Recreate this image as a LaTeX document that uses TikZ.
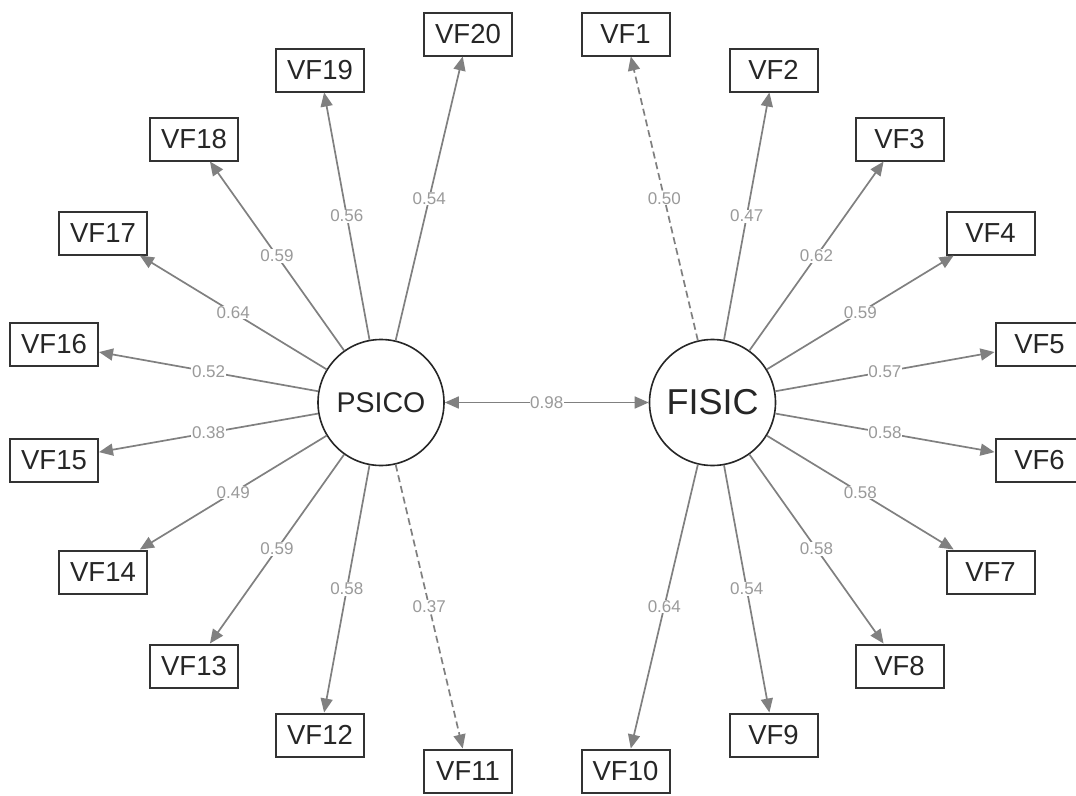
\documentclass[tikz,border=0pt]{standalone}
\usepackage{fontspec}
\setmainfont{Liberation Sans}
\usetikzlibrary{arrows.meta}
\definecolor{edgegray}{HTML}{808080}
\definecolor{lblgray}{HTML}{9A9A9A}
\definecolor{boxline}{HTML}{333333}
\begin{document}
\begin{tikzpicture}[x=1pt,y=-1pt,
  manifest/.style={draw=boxline,line width=2pt,minimum width=88pt,minimum height=43pt,inner sep=0pt,
    font=\fontsize{27.5}{30}\selectfont,text=black!85},
  latent/.style={draw=black!85,line width=1.6pt,circle,minimum size=126pt,inner sep=0pt,text=black!85},
  edge/.style={draw=edgegray,line width=1.7pt,-{Triangle[length=14pt,width=12pt]}},
  dedge/.style={edge,dash pattern=on 7pt off 4pt},
  lbl/.style={fill=white,inner sep=0.6pt,text=lblgray,font=\fontsize{17}{18}\selectfont}
]
\clip (0,0) rectangle (1076,795);
\fill[white] (0,0) rectangle (1076,795);

\node[latent,font=\fontsize{28.5}{30}\selectfont] (PSICO) at (381,402.5) {PSICO};
\node[latent,font=\fontsize{36}{38}\selectfont] (FISIC) at (712.5,402.5) {FISIC};

% left side indicators
\node[manifest] (VF20) at (468,34) {VF20};
\node[manifest] (VF19) at (320,70) {VF19};
\node[manifest] (VF18) at (194,139) {VF18};
\node[manifest] (VF17) at (103,233) {VF17};
\node[manifest] (VF16) at (54,344) {VF16};
\node[manifest] (VF15) at (54,460) {VF15};
\node[manifest] (VF14) at (103,572) {VF14};
\node[manifest] (VF13) at (194,666) {VF13};
\node[manifest] (VF12) at (320,735) {VF12};
\node[manifest] (VF11) at (468,771) {VF11};

% right side indicators
\node[manifest] (VF1) at (625.5,34) {VF1};
\node[manifest] (VF2) at (773.5,70) {VF2};
\node[manifest] (VF3) at (899.5,139) {VF3};
\node[manifest] (VF4) at (990.5,233) {VF4};
\node[manifest] (VF5) at (1039.5,344) {VF5};
\node[manifest] (VF6) at (1039.5,460) {VF6};
\node[manifest] (VF7) at (990.5,572) {VF7};
\node[manifest] (VF8) at (899.5,666) {VF8};
\node[manifest] (VF9) at (773.5,735) {VF9};
\node[manifest] (VF10) at (625.5,771) {VF10};

% PSICO loadings
\draw[edge] (PSICO) -- node[lbl]{0.54} (VF20);
\draw[edge] (PSICO) -- node[lbl]{0.56} (VF19);
\draw[edge] (PSICO) -- node[lbl]{0.59} (VF18);
\draw[edge] (PSICO) -- node[lbl]{0.64} (VF17);
\draw[edge] (PSICO) -- node[lbl]{0.52} (VF16);
\draw[edge] (PSICO) -- node[lbl]{0.38} (VF15);
\draw[edge] (PSICO) -- node[lbl]{0.49} (VF14);
\draw[edge] (PSICO) -- node[lbl]{0.59} (VF13);
\draw[edge] (PSICO) -- node[lbl]{0.58} (VF12);
\draw[dedge] (PSICO) -- node[lbl]{0.37} (VF11);

% FISIC loadings
\draw[dedge] (FISIC) -- node[lbl]{0.50} (VF1);
\draw[edge] (FISIC) -- node[lbl]{0.47} (VF2);
\draw[edge] (FISIC) -- node[lbl]{0.62} (VF3);
\draw[edge] (FISIC) -- node[lbl]{0.59} (VF4);
\draw[edge] (FISIC) -- node[lbl]{0.57} (VF5);
\draw[edge] (FISIC) -- node[lbl]{0.58} (VF6);
\draw[edge] (FISIC) -- node[lbl]{0.58} (VF7);
\draw[edge] (FISIC) -- node[lbl]{0.58} (VF8);
\draw[edge] (FISIC) -- node[lbl]{0.54} (VF9);
\draw[edge] (FISIC) -- node[lbl]{0.64} (VF10);

% covariance
\draw[edge,{Triangle[length=14pt,width=12pt]}-{Triangle[length=14pt,width=12pt]}] (PSICO) -- node[lbl]{0.98} (FISIC);
\end{tikzpicture}
\end{document}
